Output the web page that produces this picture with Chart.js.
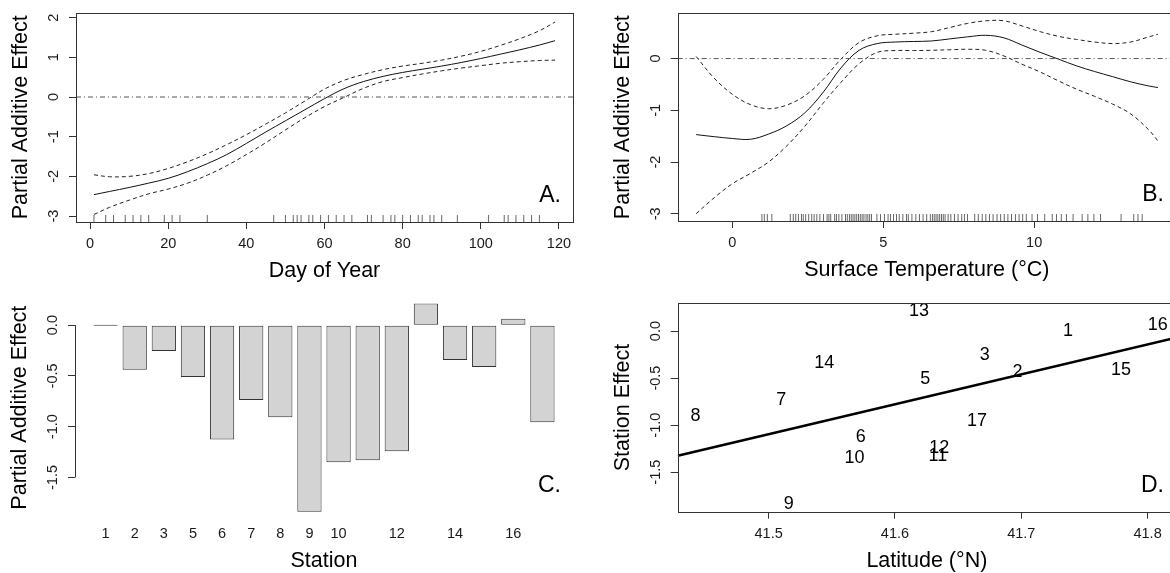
<!DOCTYPE html>
<html>
<head>
<meta charset="utf-8">
<title>Partial additive effects</title>
<script src="https://cdn.jsdelivr.net/npm/chart.js@4.4.0/dist/chart.umd.min.js"></script>
<style>
    html, body { margin: 0; padding: 0; background: #fff; width: 1170px; height: 573px; overflow: hidden; position: relative; }
    canvas.panel { position: absolute; }
</style>
</head>
<body>
<canvas id="dayChart" class="panel" style="left:0;top:0" width="585" height="287"></canvas>
<canvas id="tempChart" class="panel" style="left:585px;top:0" width="600" height="287"></canvas>
<canvas id="stationChart" class="panel" style="left:0;top:287px" width="585" height="286"></canvas>
<canvas id="latitudeChart" class="panel" style="left:585px;top:287px" width="600" height="286"></canvas>
<script>
// panel A: day of year smooth with its band
const dayOfYear = [1, 5, 10, 15, 20, 25, 30, 35, 40, 45, 50, 55, 60, 65, 70, 75, 80, 85, 90, 95, 100, 105, 110, 115, 119];
const dayFit = [-2.46, -2.38, -2.28, -2.17, -2.05, -1.88, -1.68, -1.45, -1.17, -0.88, -0.60, -0.32, -0.04, 0.21, 0.39, 0.52, 0.62, 0.70, 0.78, 0.87, 0.97, 1.08, 1.19, 1.31, 1.42];
const dayUpper = [-1.96, -2.01, -2.00, -1.93, -1.80, -1.63, -1.43, -1.20, -0.95, -0.68, -0.40, -0.10, 0.20, 0.42, 0.57, 0.69, 0.78, 0.85, 0.93, 1.03, 1.15, 1.30, 1.47, 1.67, 1.89];
const dayLower = [-2.96, -2.78, -2.60, -2.44, -2.32, -2.17, -1.97, -1.73, -1.45, -1.15, -0.83, -0.52, -0.24, -0.01, 0.22, 0.39, 0.49, 0.58, 0.66, 0.73, 0.79, 0.85, 0.89, 0.92, 0.93];
const dayRug = [1, 4, 6, 9, 11, 13, 15, 19, 21, 23, 30, 47, 50, 52, 53, 54, 56, 57, 59, 61, 63, 65, 67, 71, 72, 75, 77, 78, 80, 82, 84, 85, 87, 88, 90, 94, 102, 106, 107, 109, 111, 113, 115];
const dayTicks = [0, 20, 40, 60, 80, 100, 120];
const dayEffectTicks = [-3, -2, -1, 0, 1, 2];

// panel B: surface temperature smooth
const tempX = [-1.2, -0.6, 0, 0.6, 1.2, 1.8, 2.4, 3.0, 3.6, 4.2, 4.8, 5.4, 6.0, 6.6, 7.2, 7.8, 8.4, 9.0, 9.6, 10.2, 10.8, 11.4, 12.0, 12.6, 13.2, 13.8, 14.1];
const tempFit = [-1.47, -1.51, -1.545, -1.56, -1.46, -1.30, -1.05, -0.66, -0.18, 0.16, 0.29, 0.32, 0.33, 0.34, 0.38, 0.42, 0.45, 0.40, 0.26, 0.12, -0.01, -0.14, -0.25, -0.35, -0.45, -0.53, -0.56];
const tempUpper = [0.04, -0.38, -0.69, -0.89, -0.97, -0.90, -0.72, -0.41, -0.01, 0.31, 0.44, 0.47, 0.49, 0.52, 0.60, 0.68, 0.73, 0.73, 0.63, 0.52, 0.43, 0.37, 0.32, 0.29, 0.32, 0.42, 0.47];
const tempLower = [-3.0, -2.69, -2.42, -2.22, -2.0, -1.69, -1.31, -0.87, -0.46, -0.10, 0.12, 0.155, 0.155, 0.16, 0.17, 0.18, 0.16, 0.05, -0.11, -0.26, -0.43, -0.59, -0.73, -0.88, -1.07, -1.38, -1.59];
const tempRug = [0.98, 1.06, 1.16, 1.31, 1.92, 2.02, 2.10, 2.19, 2.29, 2.35, 2.43, 2.53, 2.63, 2.71, 2.80, 2.90, 3.02, 3.14, 3.20, 3.26,
    3.39, 3.45, 3.53, 3.63, 3.75, 3.81, 3.88, 3.94, 4.00, 4.06, 4.12, 4.18, 4.24, 4.30, 4.36, 4.43, 4.49, 4.55, 4.61, 4.79,
    4.91, 5.04, 5.16, 5.24, 5.34, 5.44, 5.53, 5.65, 5.77, 5.83, 5.95, 6.08, 6.20, 6.32, 6.44, 6.56, 6.63, 6.69, 6.75, 6.81,
    6.87, 6.93, 6.99, 7.05, 7.15, 7.24, 7.36, 7.48, 7.60, 7.69, 7.79, 8.03, 8.15, 8.28, 8.40, 8.52, 8.64, 8.77, 8.89, 9.01,
    9.13, 9.25, 9.38, 9.50, 9.62, 9.74, 9.93, 10.11, 10.35, 10.6, 10.74, 10.9, 11.07, 11.29, 11.59, 11.78, 11.98, 12.2, 12.88, 13.3,
    13.44, 13.58];
const tempTicks = [0, 5, 10];
const tempEffectTicks = [-3, -2, -1, 0];

// panels C and D: station effects
const stations = [1, 2, 3, 5, 6, 7, 8, 9, 10, 11, 12, 13, 14, 15, 16, 17];
const stationTickLabels = ['1', '2', '3', '5', '6', '7', '8', '9', '10', '', '12', '', '14', '', '16', ''];
const stationEffect = [0, -0.44, -0.255, -0.51, -1.127, -0.737, -0.907, -1.838, -1.35, -1.33, -1.241, 0.213, -0.344, -0.413, 0.062, -0.956];
const stationLatitude = [41.737, 41.697, 41.671, 41.624, 41.573, 41.510, 41.442, 41.516, 41.568, 41.634, 41.635, 41.619, 41.544, 41.779, 41.808, 41.665];
const latitudeFitX = [41.428, 41.8225];
const latitudeFitY = [-1.326, -0.072];
const stationEffectTicks = [-1.5, -1.0, -0.5, 0.0];
const latitudeTicks = [41.5, 41.6, 41.7, 41.8];

const FONT = '"Liberation Sans", Arial, Helvetica, sans-serif';

// draws the R style frame: box, rotated y labels, titles and panel letter
const rFrame = {
    id: 'rFrame',
    afterDraw: function (chart, args, opts) {
        if (!opts || !opts.xTitle) {
            return;
        }
        var ctx = chart.ctx,
            a = chart.chartArea,
            xs = chart.scales.x,
            ys = chart.scales.y;

        ctx.save();
        ctx.strokeStyle = '#333';
        ctx.lineWidth = 1;
        if (opts.box) {
            var l = Math.round(a.left), t = Math.round(a.top);
            ctx.strokeRect(l + 0.5, t + 0.5, Math.round(a.right) - l, Math.round(a.bottom) - t);
        }
        if (opts.yLine) {
            var lx = Math.round(a.left) + 0.5;
            ctx.beginPath();
            ctx.moveTo(lx, ys.getPixelForValue(opts.yTicks[0]));
            ctx.lineTo(lx, ys.getPixelForValue(opts.yTicks[opts.yTicks.length - 1]));
            ctx.stroke();
        }

        ctx.fillStyle = '#1a1a1a';
        ctx.font = '14.5px ' + FONT;
        ctx.textAlign = 'center';
        ctx.textBaseline = 'middle';
        opts.yTicks.forEach(function (v, i) {
            ctx.save();
            ctx.translate(a.left - 22, ys.getPixelForValue(v));
            ctx.rotate(-Math.PI / 2);
            ctx.fillText(opts.yLabels[i], 0, 0);
            ctx.restore();
        });
        opts.xTicks.forEach(function (v, i) {
            ctx.fillText(opts.xLabels[i], xs.getPixelForValue(v), a.bottom + 22);
        });

        ctx.fillStyle = '#000';
        ctx.font = '21.5px ' + FONT;
        ctx.fillText(opts.xTitle, (a.left + a.right) / 2, a.bottom + 49.5);
        ctx.save();
        ctx.translate(a.left - 55, (a.top + a.bottom) / 2);
        ctx.rotate(-Math.PI / 2);
        ctx.fillText(opts.yTitle, 0, 0);
        ctx.restore();

        ctx.font = '23px ' + FONT;
        ctx.textAlign = 'right';
        ctx.textBaseline = 'alphabetic';
        ctx.fillText(opts.tag, a.right - 12, a.bottom - 20);
        ctx.restore();
    }
};

// station numbers written where the points sit
const pointLabels = {
    id: 'pointLabels',
    afterDatasetsDraw: function (chart, args, opts) {
        if (!opts || !opts.labels) {
            return;
        }
        var ctx = chart.ctx,
            meta = chart.getDatasetMeta(opts.datasetIndex);
        ctx.save();
        ctx.fillStyle = '#000';
        ctx.font = '18px ' + FONT;
        ctx.textAlign = 'center';
        ctx.textBaseline = 'middle';
        meta.data.forEach(function (pt, i) {
            ctx.fillText(String(opts.labels[i]), pt.x, pt.y);
        });
        ctx.restore();
    }
};

function toPoints(xs, ys) {
    return xs.map(function (x, i) {
        return {x: x, y: ys[i]};
    });
}

function frameOptions(canvas, frame, axes) {
    return {
        responsive: false,
        animation: false,
        events: [],
        layout: {padding: {left: 0, top: frame.top, right: canvas.width - frame.right, bottom: 0}},
        plugins: {
            legend: {display: false},
            tooltip: {enabled: false},
            rFrame: axes,
            pointLabels: axes.pointLabels || {}
        },
        scales: {
            x: {
                type: 'linear', min: axes.xMin, max: axes.xMax, offset: false,
                afterBuildTicks: function (s) {
                    s.ticks = axes.xTicks.map(function (v) { return {value: v}; });
                },
                afterFit: function (s) { s.height = canvas.height - frame.bottom; },
                ticks: {display: false},
                grid: {display: axes.xMarks, offset: false, drawOnChartArea: false, drawTicks: true, tickLength: 7, color: '#333', tickColor: '#333'},
                border: {display: false}
            },
            y: {
                type: 'linear', min: axes.yMin, max: axes.yMax,
                afterBuildTicks: function (s) {
                    s.ticks = axes.yTicks.map(function (v) { return {value: v}; });
                },
                afterFit: function (s) { s.width = frame.left; },
                ticks: {display: false},
                grid: {display: true, drawOnChartArea: false, drawTicks: true, tickLength: 7, color: '#333', tickColor: '#333'},
                border: {display: false}
            }
        }
    };
}

function curve(data, dashed) {
    return {
        data: data, showLine: true, pointRadius: 0, borderWidth: 1,
        borderColor: dashed ? '#222' : '#111', borderDash: dashed ? [4, 3] : [],
        tension: 0.35
    };
}

function zeroLine(xMin, xMax) {
    return {
        data: [{x: xMin, y: 0}, {x: xMax, y: 0}], showLine: true, pointRadius: 0,
        borderWidth: 1, borderColor: '#555', borderDash: [5, 3, 1, 3]
    };
}

function rug(values, yMin) {
    return {
        data: values.map(function (v) { return {x: v, y: yMin}; }),
        showLine: false, pointStyle: 'line', rotation: 90, pointRadius: 7,
        borderColor: 'rgba(0,0,0,0.6)', pointBorderColor: 'rgba(0,0,0,0.6)', pointBorderWidth: 1,
        clip: 0
    };
}

var Figure = {

    setup: function () {
        Chart.register(rFrame, pointLabels);
        this.handleDayChart();
        this.handleTempChart();
        this.handleStationChart();
        this.handleLatitudeChart();
    },

    handleDayChart: function () {
        var canvas = document.getElementById('dayChart');
        var axes = {
            xMin: -3.6, xMax: 123.6, yMin: -3.15, yMax: 2.13,
            xTicks: dayTicks, xLabels: dayTicks.map(String), xMarks: true,
            yTicks: dayEffectTicks, yLabels: dayEffectTicks.map(String),
            xTitle: 'Day of Year', yTitle: 'Partial Additive Effect', tag: 'A.', box: true
        };
        new Chart(canvas, {
            type: 'scatter',
            data: {
                datasets: [
                    zeroLine(axes.xMin, axes.xMax),
                    rug(dayRug, axes.yMin),
                    curve(toPoints(dayOfYear, dayUpper), true),
                    curve(toPoints(dayOfYear, dayLower), true),
                    curve(toPoints(dayOfYear, dayFit), false)
                ]
            },
            options: frameOptions(canvas, {left: 76, top: 12.5, right: 573, bottom: 222}, axes)
        });
    },

    handleTempChart: function () {
        var canvas = document.getElementById('tempChart');
        var axes = {
            xMin: -1.81, xMax: 14.7, yMin: -3.14, yMax: 0.875,
            xTicks: tempTicks, xLabels: tempTicks.map(String), xMarks: true,
            yTicks: tempEffectTicks, yLabels: tempEffectTicks.map(String),
            xTitle: 'Surface Temperature (°C)', yTitle: 'Partial Additive Effect', tag: 'B.', box: true
        };
        new Chart(canvas, {
            type: 'scatter',
            data: {
                datasets: [
                    zeroLine(axes.xMin, axes.xMax),
                    rug(tempRug, axes.yMin),
                    curve(toPoints(tempX, tempUpper), true),
                    curve(toPoints(tempX, tempLower), true),
                    curve(toPoints(tempX, tempFit), false)
                ]
            },
            options: frameOptions(canvas, {left: 92.7, top: 13.3, right: 591, bottom: 221}, axes)
        });
    },

    handleStationChart: function () {
        var canvas = document.getElementById('stationChart');
        // barplot midpoints: width 1, space 0.2
        var barMid = stations.map(function (s, i) { return 0.7 + 1.2 * i; });
        var axes = {
            xMin: -0.56, xMax: 19.96, yMin: -1.84, yMax: 0.215,
            xTicks: barMid, xLabels: stationTickLabels, xMarks: false,
            yTicks: stationEffectTicks, yLabels: stationEffectTicks.map(function (v) { return v.toFixed(1); }),
            xTitle: 'Station', yTitle: 'Partial Additive Effect', tag: 'C.', box: false, yLine: true
        };
        new Chart(canvas, {
            type: 'bar',
            data: {
                datasets: [{
                    data: toPoints(barMid, stationEffect),
                    backgroundColor: '#d3d3d3',
                    borderColor: '#333',
                    borderWidth: 1,
                    borderSkipped: false,
                    minBarLength: 1,
                    categoryPercentage: 1,
                    barPercentage: 1 / 1.2
                }]
            },
            options: frameOptions(canvas, {left: 75, top: 16.3, right: 573, bottom: 225}, axes)
        });
    },

    handleLatitudeChart: function () {
        var canvas = document.getElementById('latitudeChart');
        var axes = {
            xMin: 41.428, xMax: 41.8225, yMin: -1.92, yMax: 0.295,
            xTicks: latitudeTicks, xLabels: latitudeTicks.map(function (v) { return v.toFixed(1); }), xMarks: true,
            yTicks: stationEffectTicks, yLabels: stationEffectTicks.map(function (v) { return v.toFixed(1); }),
            xTitle: 'Latitude (°N)', yTitle: 'Station Effect', tag: 'D.', box: true,
            pointLabels: {datasetIndex: 1, labels: stations}
        };
        new Chart(canvas, {
            type: 'scatter',
            data: {
                datasets: [
                    {
                        data: toPoints(latitudeFitX, latitudeFitY), showLine: true, pointRadius: 0,
                        borderWidth: 2.5, borderColor: '#000'
                    },
                    {
                        data: toPoints(stationLatitude, stationEffect), showLine: false, pointRadius: 0
                    }
                ]
            },
            options: frameOptions(canvas, {left: 92.7, top: 16.3, right: 591, bottom: 224.7}, axes)
        });
    }
};

Figure.setup();
</script>
</body>
</html>
